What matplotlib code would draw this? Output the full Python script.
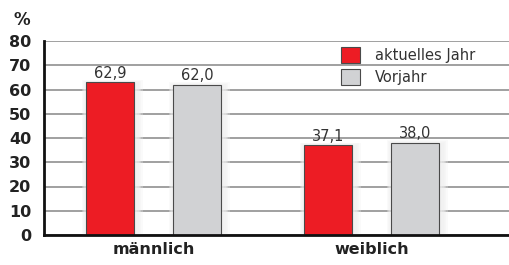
import matplotlib.pyplot as plt
from matplotlib.patches import Rectangle
import numpy as np

# data
gruppen = ['männlich', 'weiblich']
aktuell = [62.9, 37.1]
vorjahr = [62.0, 38.0]
labels_aktuell = ['62,9', '37,1']
labels_vorjahr = ['62,0', '38,0']
y_ticks = [0, 10, 20, 30, 40, 50, 60, 70, 80]

rot = '#ED1C24'
grau = '#D1D2D4'

plt.rcParams['font.family'] = ['DejaVu Sans']

fig = plt.figure(figsize=(5.09, 2.65), dpi=100)
ax = fig.add_axes([44 / 509, 1 - 235 / 265, 1 - 44 / 509, (235 - 41) / 265])

x = np.arange(len(gruppen))
off = 0.1995
w = 0.22

ax.yaxis.grid(True, color='#999999', linewidth=1.3, zorder=0)
ax.set_axisbelow(True)

# weicher schatten um die balken
for xs, hs in [(x - off, aktuell), (x + off, vorjahr)]:
    for xi, h in zip(xs, hs):
        for k in range(1, 6):
            dx = 0.006 * k
            ax.add_patch(Rectangle((xi - w / 2 - dx + 0.01, 0), w + 2 * dx, h + 0.3 * k - 0.5,
                                   facecolor='#f0f0f0', edgecolor='none', alpha=0.3, zorder=2))

ax.bar(x - off, aktuell, w, color=rot, edgecolor='#4a4a4a', linewidth=0.8,
       label='aktuelles Jahr', zorder=3)
ax.bar(x + off, vorjahr, w, color=grau, edgecolor='#4a4a4a', linewidth=0.8,
       label='Vorjahr', zorder=3)

for xi, v, t in zip(x - off, aktuell, labels_aktuell):
    ax.text(xi, v + 0.6, t, ha='center', va='bottom', fontsize=10.5, color='#333333')
for xi, v, t in zip(x + off, vorjahr, labels_vorjahr):
    ax.text(xi, v + 0.6, t, ha='center', va='bottom', fontsize=10.5, color='#333333')

ax.set_ylim(0, 80)
ax.set_xlim(-0.502, 1.631)
ax.set_yticks(y_ticks)
ax.set_yticklabels([str(t) for t in y_ticks], fontsize=11.5, fontweight='bold')
ax.set_xticks(x)
ax.set_xticklabels(gruppen, fontsize=11.5, fontweight='bold', color='#222222')
ax.tick_params(axis='both', length=0)
ax.tick_params(axis='y', pad=9, labelcolor='#222222')
ax.tick_params(axis='x', pad=5)

for s in ['top', 'right']:
    ax.spines[s].set_visible(False)
ax.spines['left'].set_linewidth(2)
ax.spines['bottom'].set_linewidth(2)
ax.spines['left'].set_color('#111111')
ax.spines['bottom'].set_color('#111111')
ax.spines['left'].set_zorder(5)
ax.spines['bottom'].set_zorder(5)

fig.text(14 / 509, 1 - 20 / 265, '%', fontsize=12, fontweight='bold', va='center',
         ha='left', color='#222222')

leg = ax.legend(loc='upper left', bbox_to_anchor=(0.611, 1.035), frameon=False, fontsize=10.5,
                handlelength=1.3, handleheight=1.3, labelspacing=0.4, handletextpad=1.0)
for t in leg.get_texts():
    t.set_color('#333333')

fig.savefig('out.png', dpi=100)
